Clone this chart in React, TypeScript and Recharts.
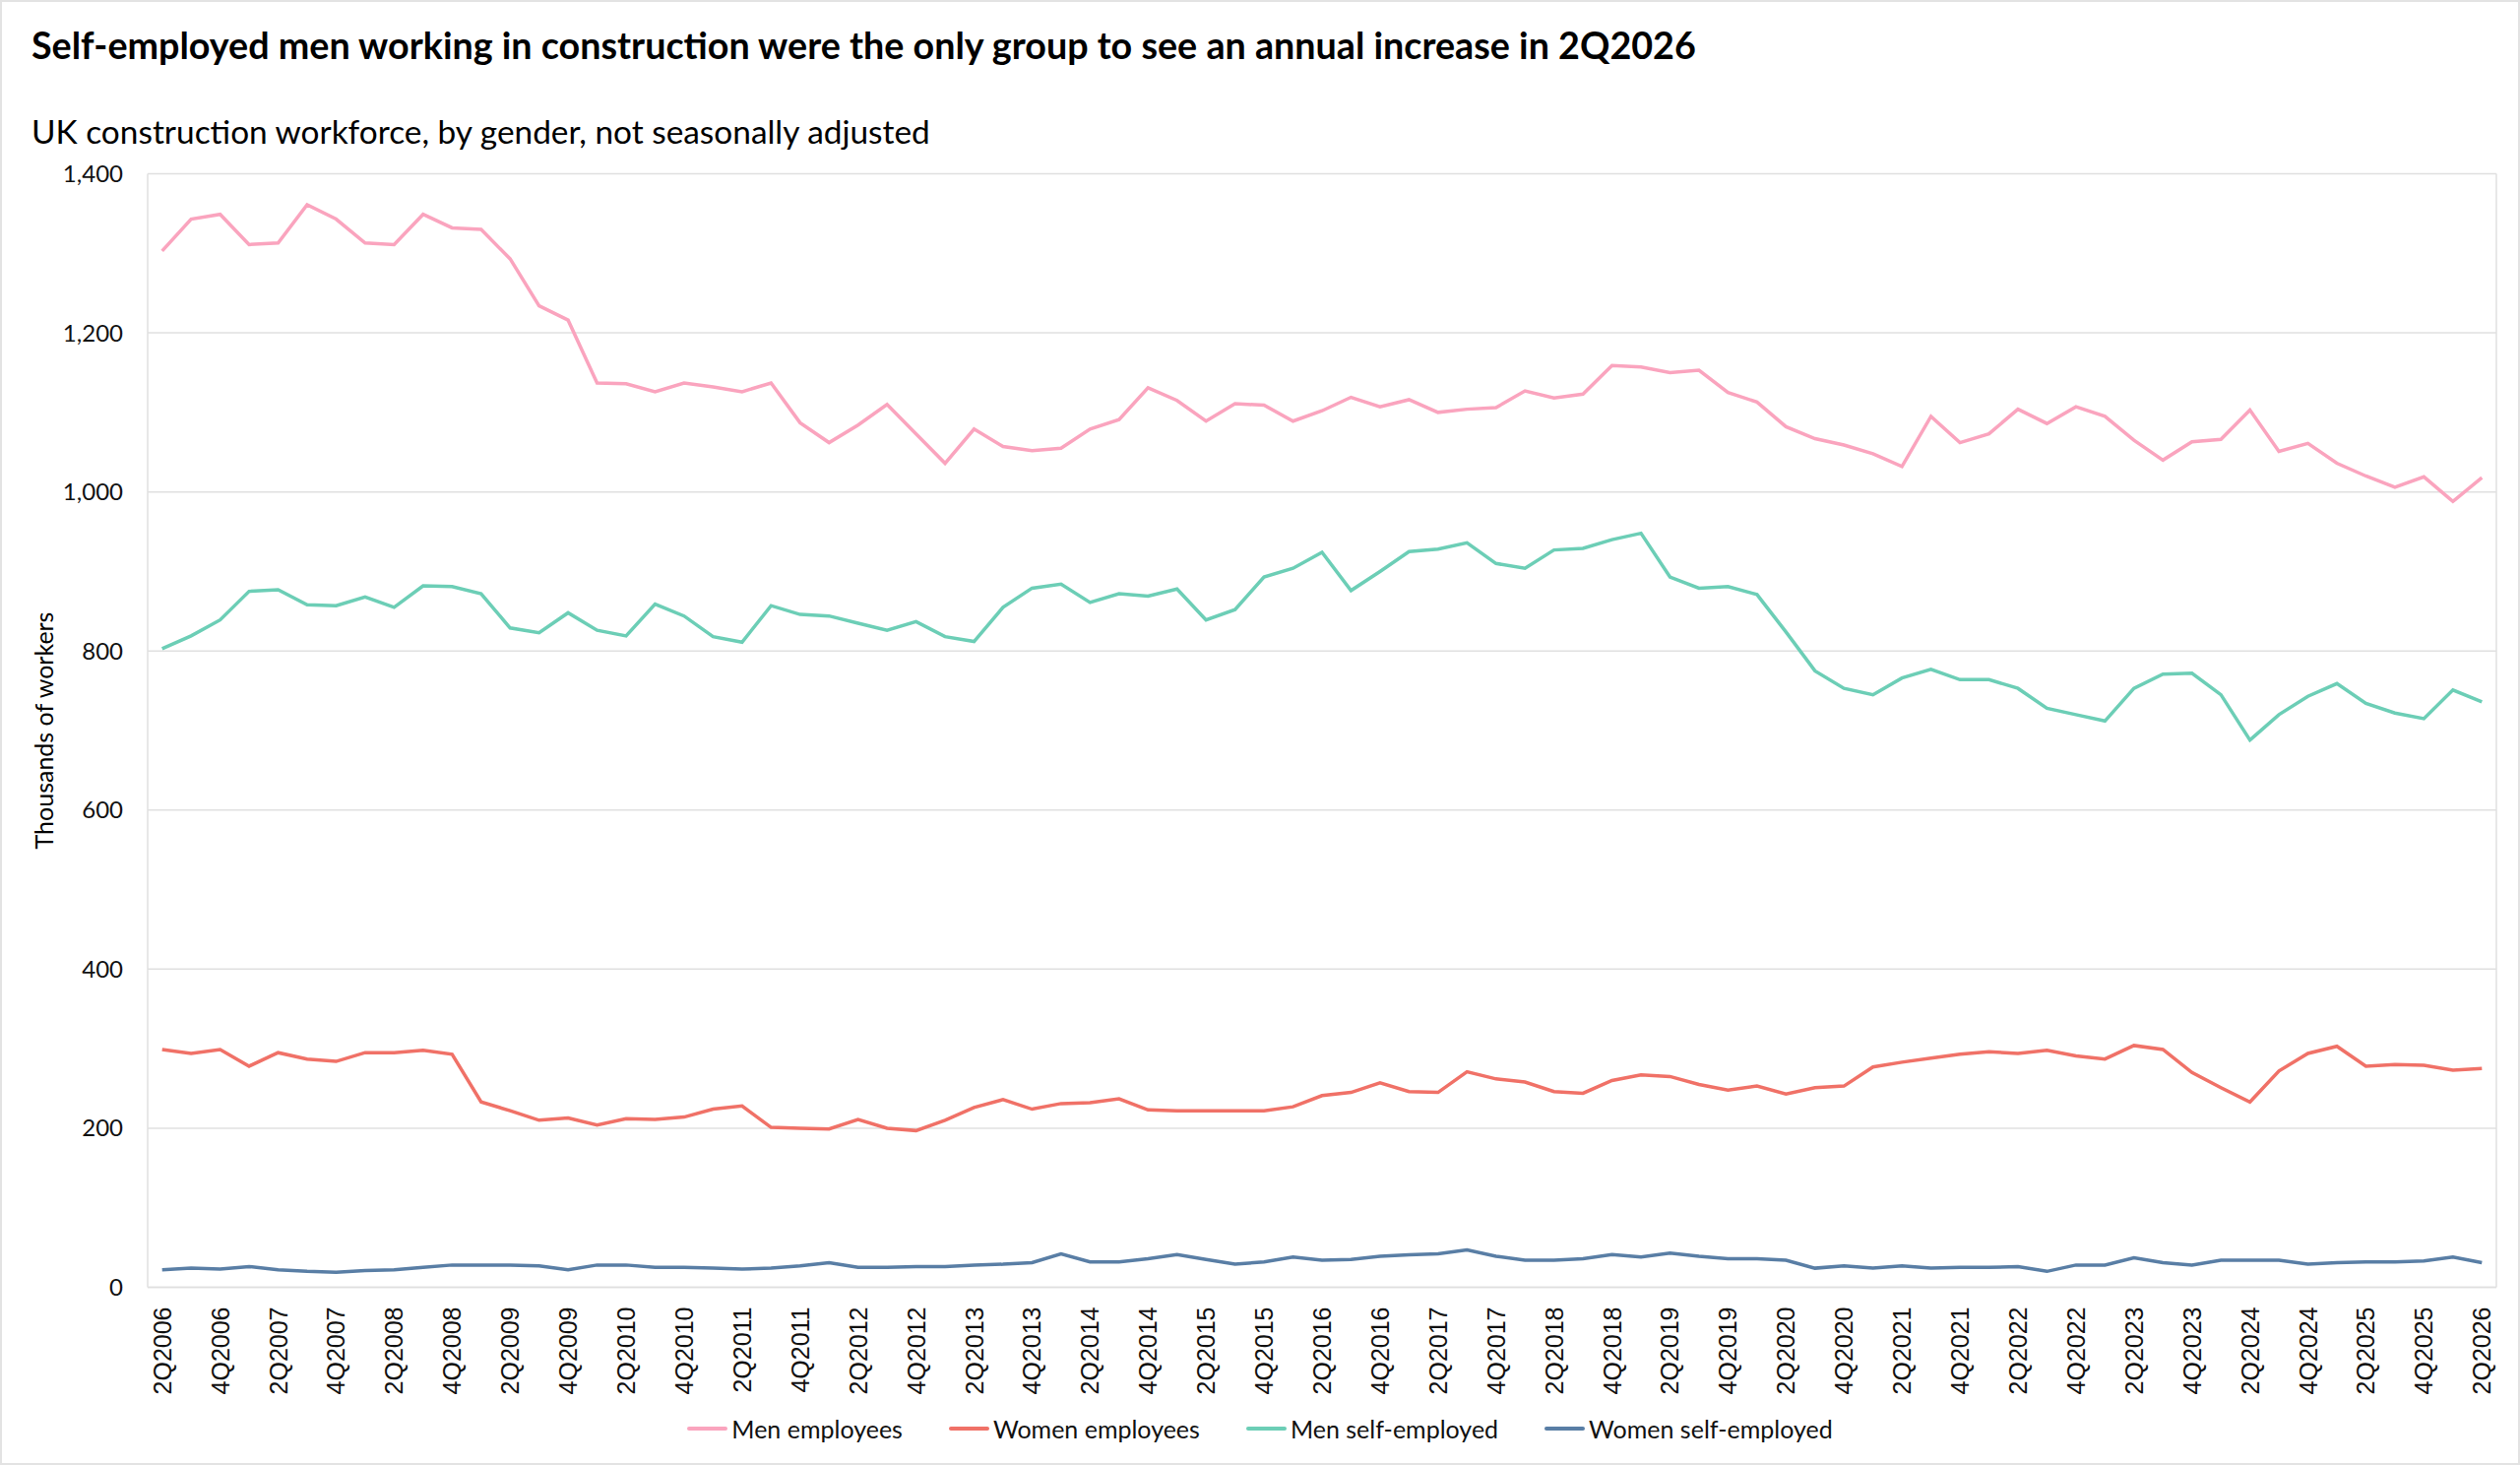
import React from "react";
import { LineChart, Line, XAxis, YAxis, CartesianGrid, Legend } from "recharts";

// quarter labels 2Q2006 .. 2Q2026
const quarters: string[] = [];
for (let y = 2006; y <= 2026; y++) {
  for (const q of [1, 2, 3, 4]) {
    if ((y === 2006 && q < 2) || (y === 2026 && q > 2)) continue;
    quarters.push(`${q}Q${y}`);
  }
}

const menEmployees = [
  1303, 1343, 1349, 1311, 1313, 1361, 1343, 1313, 1311, 1349, 1332, 1330, 1293, 1234, 1216, 1137, 1136, 1126, 1137, 1132, 1126,
  1137, 1087, 1062, 1084, 1110, 1073, 1036, 1079, 1057, 1052, 1055, 1079, 1091, 1131, 1115, 1089, 1111, 1109, 1089, 1102, 1119,
  1107, 1116, 1100, 1104, 1106, 1127, 1118, 1123, 1159, 1157, 1150, 1153, 1125, 1113, 1082, 1067, 1059, 1048, 1032, 1095, 1062,
  1073, 1104, 1086, 1107, 1095, 1065, 1040, 1063, 1066, 1103, 1051, 1061, 1036, 1020, 1006, 1019, 988, 1018,
];

const womenEmployees = [
  299, 294, 299, 278, 295, 287, 284, 295, 295, 298, 293, 233, 222, 210, 213, 204, 212, 211, 214, 224, 228,
  201, 200, 199, 211, 200, 197, 210, 226, 236, 224, 231, 232, 237, 223, 222, 222, 222, 222, 227, 241, 245,
  257, 246, 245, 271, 262, 258, 246, 244, 260, 267, 265, 255, 248, 253, 243, 251, 253, 277, 283, 288, 293,
  296, 294, 298, 291, 287, 304, 299, 270, 251, 233, 272, 294, 303, 278, 280, 279, 273, 275,
];

const menSelfEmployed = [
  803, 819, 839, 875, 877, 858, 857, 868, 855, 882, 881, 872, 829, 823, 848, 826, 819, 859, 844, 818, 811,
  857, 846, 844, 835, 826, 837, 818, 812, 855, 879, 884, 861, 872, 869, 878, 839, 852, 893, 904, 924, 876,
  900, 925, 928, 936, 910, 904, 927, 929, 940, 948, 893, 879, 881, 871, 824, 775, 753, 745, 766, 777, 764,
  764, 753, 728, 720, 712, 753, 771, 772, 745, 688, 720, 743, 759, 734, 722, 715, 751, 736,
];

const womenSelfEmployed = [
  22, 24, 23, 26, 22, 20, 19, 21, 22, 25, 28, 28, 28, 27, 22, 28, 28, 25, 25, 24, 23,
  24, 27, 31, 25, 25, 26, 26, 28, 29, 31, 42, 32, 32, 36, 41, 35, 29, 32, 38, 34, 35,
  39, 41, 42, 47, 39, 34, 34, 36, 41, 38, 43, 39, 36, 36, 34, 24, 27, 24, 27, 24, 25,
  25, 26, 20, 28, 28, 37, 31, 28, 34, 34, 34, 29, 31, 32, 32, 33, 38, 31,
];

const seriesNames = ["Men employees", "Women employees", "Men self-employed", "Women self-employed"];

const yTicks = [0, 200, 400, 600, 800, 1000, 1200, 1400];

const data = quarters.map((q, i) => ({
  q,
  menEmp: menEmployees[i],
  womenEmp: womenEmployees[i],
  menSelf: menSelfEmployed[i],
  womenSelf: womenSelfEmployed[i],
}));

const LATO = "Lato, 'Noto Sans', sans-serif";
const GRID = "#e0e0e0";

function QuarterTick({ x, y, payload }: any) {
  return (
    <g transform={`translate(${x},${y})`}>
      <text
        transform="rotate(-90)"
        textAnchor="end"
        dominantBaseline="central"
        fontFamily="'Liberation Sans', Arial, sans-serif"
        fontSize={25}
        fill="#111"
      >
        {payload.value}
      </text>
    </g>
  );
}

function LegendContent({ payload }: any) {
  const items = [...(payload || [])].sort(
    (a: any, b: any) => seriesNames.indexOf(a.value) - seriesNames.indexOf(b.value)
  );
  return (
    <div
      style={{
        display: "flex",
        justifyContent: "center",
        alignItems: "center",
        gap: 47,
        fontFamily: LATO,
        fontSize: 25,
        color: "#111",
      }}
    >
      {items.map((p: any) => (
        <div key={p.value} style={{ display: "flex", alignItems: "center" }}>
          <span
            style={{
              display: "inline-block",
              width: 41,
              height: 4,
              borderRadius: 2,
              background: p.color,
              marginRight: 4,
            }}
          />
          <span>{p.value}</span>
        </div>
      ))}
    </div>
  );
}

export default function App() {
  return (
    <div
      style={{
        position: "absolute",
        left: 0,
        top: 0,
        width: 2560,
        height: 1488,
        background: "#fff",
        overflow: "hidden",
      }}
    >
      <div
        style={{
          position: "absolute",
          left: 32,
          top: 25,
          fontFamily: LATO,
          fontWeight: 700,
          fontSize: 37.7,
          lineHeight: "42px",
          color: "#000",
          whiteSpace: "nowrap",
        }}
      >
        Self-employed men working in construction were the only group to see an annual increase in 2Q2026
      </div>
      <div
        style={{
          position: "absolute",
          left: 32,
          top: 114,
          fontFamily: LATO,
          fontSize: 33.4,
          lineHeight: "38px",
          color: "#000",
          whiteSpace: "nowrap",
        }}
      >
        UK construction workforce, by gender, not seasonally adjusted
      </div>
      <div
        style={{
          position: "absolute",
          left: 44,
          top: 742,
          transform: "translate(-50%, -50%) rotate(-90deg)",
          fontFamily: LATO,
          fontSize: 25,
          color: "#000",
          whiteSpace: "nowrap",
        }}
      >
        Thousands of workers
      </div>

      <div style={{ position: "absolute", left: 0, top: 0 }}>
        <LineChart
          width={2560}
          height={1488}
          data={data}
          margin={{ top: 176.5, right: 24, bottom: 0, left: 0 }}
        >
          <CartesianGrid
            stroke={GRID}
            strokeWidth={1.5}
            vertical={true}
            verticalCoordinatesGenerator={({ offset }: any) => [offset.left + offset.width]}
          />
          <XAxis
            dataKey="q"
            interval={1}
            height={180.5}
            padding={{ left: 14.7, right: 14.7 }}
            tickLine={false}
            tickSize={0}
            tickMargin={20}
            axisLine={{ stroke: GRID, strokeWidth: 1.5 }}
            tick={<QuarterTick />}
          />
          <YAxis
            width={150}
            domain={[0, 1400]}
            ticks={yTicks}
            tickFormatter={(v: number) => v.toLocaleString("en-GB")}
            tickLine={false}
            tickSize={0}
            tickMargin={25}
            axisLine={{ stroke: GRID, strokeWidth: 1.5 }}
            tick={{ fontFamily: LATO, fontSize: 24, fill: "#111" }}
          />
          <Legend
            verticalAlign="middle"
            align="center"
            layout="horizontal"
            wrapperStyle={{ top: 1436, left: 0, width: 2560 }}
            content={<LegendContent />}
          />
          <Line
            type="linear"
            dataKey="menEmp"
            name={seriesNames[0]}
            stroke="#FAA4BE"
            strokeWidth={3.5}
            dot={false}
            isAnimationActive={false}
          />
          <Line
            type="linear"
            dataKey="womenEmp"
            name={seriesNames[1]}
            stroke="#F07167"
            strokeWidth={3.5}
            dot={false}
            isAnimationActive={false}
          />
          <Line
            type="linear"
            dataKey="menSelf"
            name={seriesNames[2]}
            stroke="#6CCEB6"
            strokeWidth={3.5}
            dot={false}
            isAnimationActive={false}
          />
          <Line
            type="linear"
            dataKey="womenSelf"
            name={seriesNames[3]}
            stroke="#597EA5"
            strokeWidth={3.5}
            dot={false}
            isAnimationActive={false}
          />
        </LineChart>
      </div>

      <div
        style={{
          position: "absolute",
          left: 0,
          top: 0,
          width: 2560,
          height: 1488,
          boxSizing: "border-box",
          border: "2px solid #e3e3e3",
          pointerEvents: "none",
        }}
      />
    </div>
  );
}
